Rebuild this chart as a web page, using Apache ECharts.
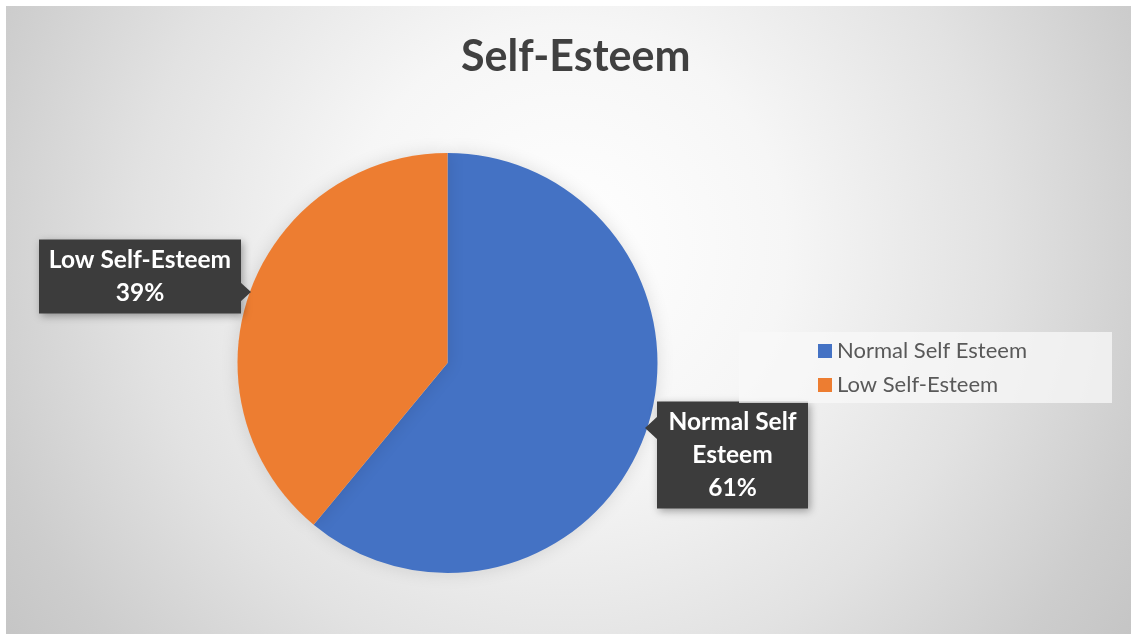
<!DOCTYPE html>
<html>
<head>
<meta charset="utf-8">
<script src="https://cdn.jsdelivr.net/npm/echarts@6/dist/echarts.min.js"></script>
<style>
html,body{margin:0;padding:0;background:#fff;width:1131px;height:634px;overflow:hidden;}
#bg{position:absolute;left:6px;top:6px;width:1125px;height:628px;
background:radial-gradient(circle at 560px 240px,#ffffff 0px,#f6f6f6 220px,#e2e2e2 430px,#cdcdcd 600px,#c2c2c2 720px);}
#chart{position:absolute;left:0;top:0;width:1131px;height:634px;}
</style>
</head>
<body>
<div id="bg"></div>
<div id="chart"></div>
<script>
const titleText = 'Self-Esteem';
const categories = ['Normal Self Esteem', 'Low Self-Esteem'];
const values = [61, 39];
const labelTexts = ['Normal Self\nEsteem', 'Low Self-Esteem'];
const colors = ['#4472C4', '#ED7D31'];

const labelBoxes = [
  {x: 732.5, y: 455, width: 135},
  {x: 140, y: 276.5, width: 186}
];

const chart = echarts.init(document.getElementById('chart'), null, {renderer: 'canvas'});
const FONT = 'Lato, "Open Sans", sans-serif';

const data = categories.map((c, i) => ({
  name: c,
  value: values[i],
  itemStyle: {color: colors[i]},
  label: {
    formatter: labelTexts[i] + '\n{d}%',
    width: labelBoxes[i].width
  }
}));

chart.setOption({
  backgroundColor: 'transparent',
  animation: false,
  title: {
    text: titleText,
    left: 456,
    top: 31,
    textStyle: {fontFamily: FONT, fontSize: 43, fontWeight: 'bold', color: '#404040'}
  },
  legend: {
    orient: 'vertical',
    left: 739,
    top: 332,
    padding: [8, 85, 7, 79],
    backgroundColor: 'rgba(248,248,248,0.75)',
    icon: 'rect',
    itemWidth: 14,
    itemHeight: 14,
    itemGap: 12,
    textStyle: {fontFamily: FONT, fontSize: 22, color: '#595959', padding: [0, 0, 0, 0]},
    data: categories
  },
  series: [{
    type: 'pie',
    center: [447.5, 363],
    radius: 210,
    startAngle: 90,
    clockwise: true,
    data: data,
    itemStyle: {shadowBlur: 18, shadowColor: 'rgba(0,0,0,0.12)'},
    label: {
      show: true,
      position: 'outside',
      color: '#ffffff',
      fontFamily: FONT,
      fontWeight: 'bold',
      fontSize: 24.5,
      lineHeight: 33,
      align: 'center',
      backgroundColor: '#3c3c3c',
      padding: [4, 8, 4, 8],
      shadowBlur: 8,
      shadowColor: 'rgba(0,0,0,0.35)',
      shadowOffsetX: 2,
      shadowOffsetY: 2
    },
    labelLine: {show: false},
    labelLayout: function (p) {
      const b = labelBoxes[p.dataIndex];
      return {x: b.x, y: b.y, align: 'center', verticalAlign: 'middle', moveOverlap: false};
    },
    emphasis: {disabled: true}
  }],
  graphic: [
    {type: 'polygon', shape: {points: [[240, 282], [251, 292], [240, 302]]}, style: {fill: '#3c3c3c'}, z: 100},
    {type: 'polygon', shape: {points: [[658, 416], [645, 428], [658, 440]]}, style: {fill: '#3c3c3c'}, z: 100}
  ]
});
</script>
</body>
</html>
